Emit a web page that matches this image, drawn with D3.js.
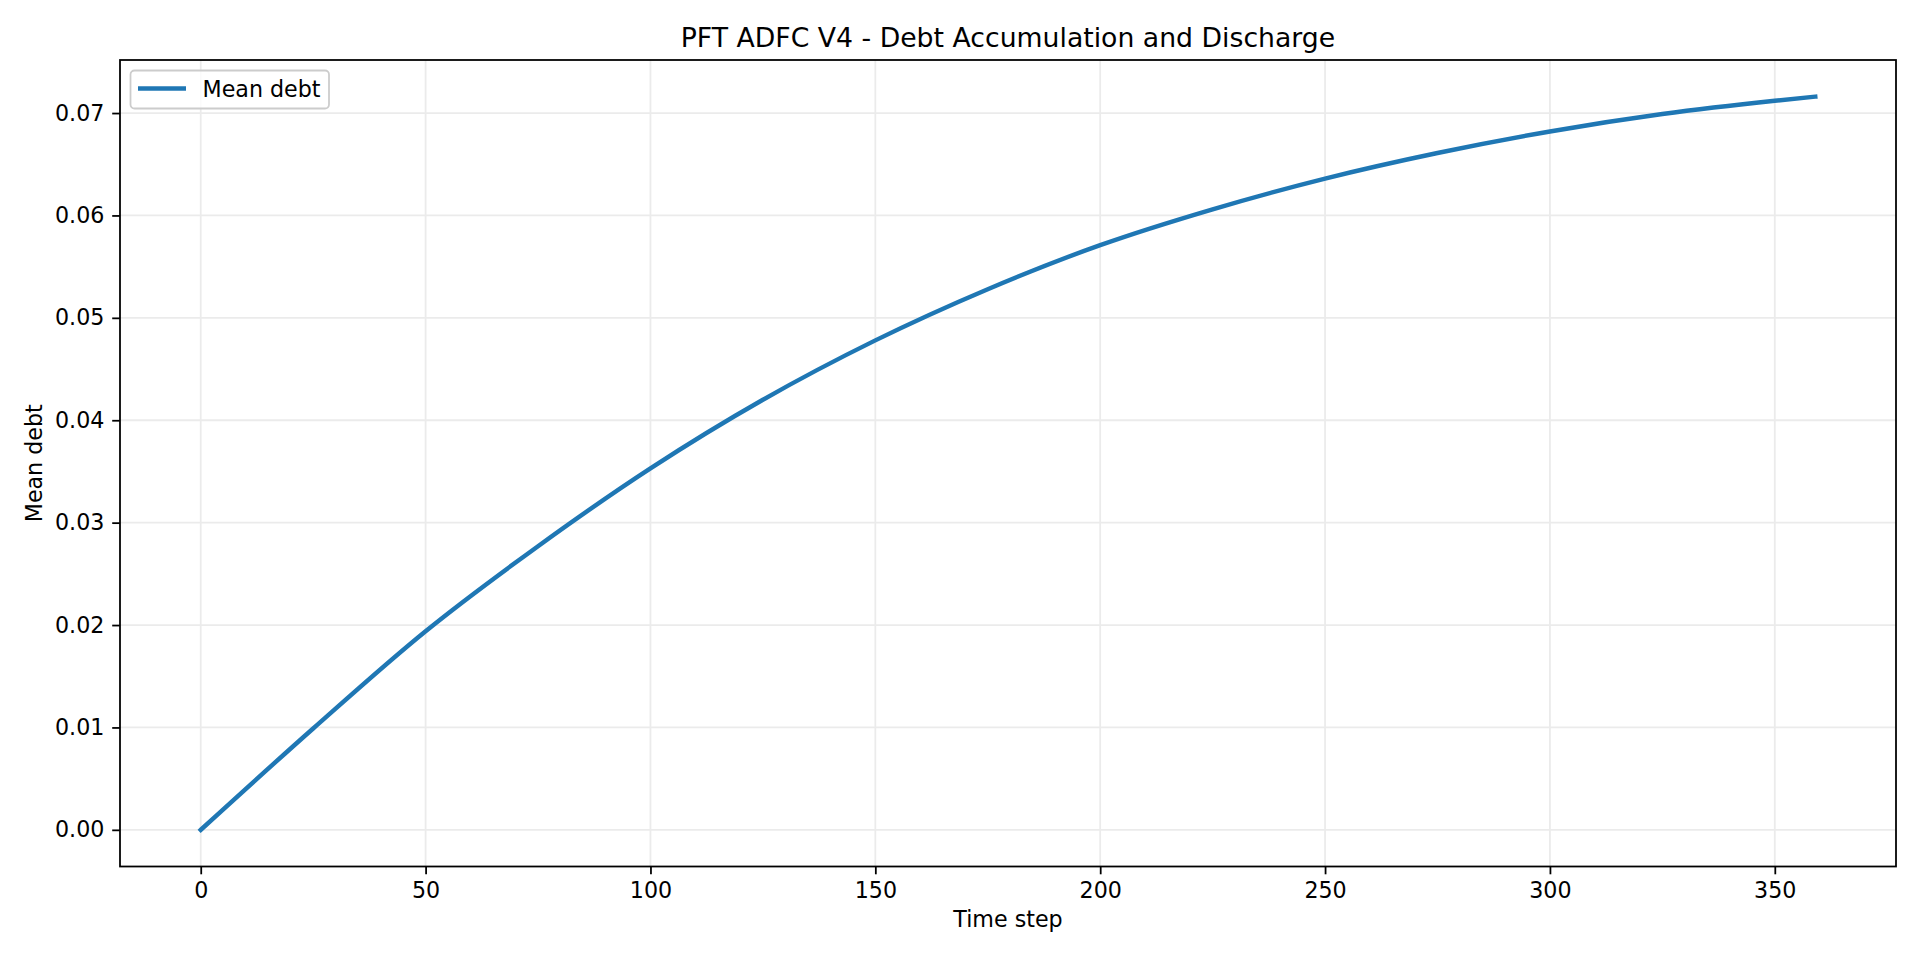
<!DOCTYPE html>
<html>
<head>
<meta charset="utf-8">
<script src="https://cdn.jsdelivr.net/npm/d3@7"></script>
<style>
html,body{margin:0;padding:0;background:#fff;}
svg{display:block;font-family:"DejaVu Sans",sans-serif;}
</style>
</head>
<body>
<svg id="chart" width="1920" height="960"></svg>
<script>
// Data
const timeSteps = [0, 25, 50, 75, 100, 125, 150, 175, 200, 225, 250, 275, 300, 325, 350, 359];
const meanDebt  = [0, 0.0099, 0.0194, 0.0277, 0.0353, 0.0420, 0.0478, 0.0528, 0.0571, 0.0606, 0.0636, 0.0661, 0.0682, 0.0699, 0.0712, 0.0716];
const xTicks = [0, 50, 100, 150, 200, 250, 300, 350];
const yTicks = [0.00, 0.01, 0.02, 0.03, 0.04, 0.05, 0.06, 0.07];
const titleText = "PFT ADFC V4 - Debt Accumulation and Discharge";
const xLabel = "Time step";
const yLabel = "Mean debt";
const seriesName = "Mean debt";

const data = timeSteps.map((t, i) => ({t, v: meanDebt[i]}));

const W = 1920, H = 960;
const m = {left: 120, right: 24, top: 60, bottom: 93.5};
const svg = d3.select("#chart");

const xMin = d3.min(timeSteps), xMax = d3.max(timeSteps);
const yMin = d3.min(meanDebt), yMax = d3.max(meanDebt);
const xPad = (xMax - xMin) * 0.05, yPad = (yMax - yMin) * 0.05;

const x = d3.scaleLinear().domain([xMin - xPad, xMax + xPad]).range([m.left, W - m.right]);
const y = d3.scaleLinear().domain([yMin - yPad, yMax + yPad]).range([H - m.bottom, m.top]);

const fs = 22.2;
const gridColor = "#ebebeb";

// grid
svg.append("g").selectAll("line").data(xTicks).join("line")
  .attr("x1", d => x(d)).attr("x2", d => x(d))
  .attr("y1", m.top).attr("y2", H - m.bottom)
  .attr("stroke", gridColor).attr("stroke-width", 1.78);
svg.append("g").selectAll("line").data(yTicks).join("line")
  .attr("y1", d => y(d)).attr("y2", d => y(d))
  .attr("x1", m.left).attr("x2", W - m.right)
  .attr("stroke", gridColor).attr("stroke-width", 1.78);

// line
const line = d3.line().x(d => x(d.t)).y(d => y(d.v)).curve(d3.curveMonotoneX);
svg.append("path").datum(data)
  .attr("d", line)
  .attr("fill", "none")
  .attr("stroke", "#1f77b4")
  .attr("stroke-width", 4.44)
  .attr("stroke-linecap", "square")
  .attr("stroke-linejoin", "round");

// axes
const xAxis = d3.axisBottom(x).tickValues(xTicks).tickFormat(d3.format("d")).tickSize(7.8).tickPadding(7.8);
const yAxis = d3.axisLeft(y).tickValues(yTicks).tickFormat(d3.format(".2f")).tickSize(7.8).tickPadding(7.8);

const gx = svg.append("g").attr("transform", `translate(0,${H - m.bottom})`).call(xAxis);
const gy = svg.append("g").attr("transform", `translate(${m.left},0)`).call(yAxis);
[gx, gy].forEach(g => {
  g.select(".domain").remove();
  g.selectAll(".tick line").attr("stroke", "#000").attr("stroke-width", 1.78);
  g.selectAll(".tick text").attr("fill", "#000").style("font-size", fs + "px").style("font-family", "DejaVu Sans");
});

// frame
svg.append("rect")
  .attr("x", m.left).attr("y", m.top)
  .attr("width", W - m.left - m.right).attr("height", H - m.top - m.bottom)
  .attr("fill", "none").attr("stroke", "#000").attr("stroke-width", 1.78);

// title
svg.append("text")
  .attr("x", (m.left + W - m.right) / 2).attr("y", 46.5)
  .attr("text-anchor", "middle")
  .style("font-size", "26.7px").attr("fill", "#000")
  .text(titleText);

// x label
svg.append("text")
  .attr("x", (m.left + W - m.right) / 2).attr("y", 926.5)
  .attr("text-anchor", "middle")
  .style("font-size", fs + "px").attr("fill", "#000")
  .text(xLabel);

// y label
svg.append("text")
  .attr("transform", `translate(41.5,${(m.top + H - m.bottom) / 2}) rotate(-90)`)
  .attr("text-anchor", "middle")
  .style("font-size", fs + "px").attr("fill", "#000")
  .text(yLabel);

// legend
const lg = svg.append("g");
lg.append("rect")
  .attr("x", 130.5).attr("y", 70.5).attr("width", 198.5).attr("height", 38)
  .attr("rx", 4).attr("ry", 4)
  .attr("fill", "#fff").attr("fill-opacity", 0.8)
  .attr("stroke", "#cccccc").attr("stroke-width", 1.78);
lg.append("line")
  .attr("x1", 138).attr("x2", 186).attr("y1", 88.5).attr("y2", 88.5)
  .attr("stroke", "#1f77b4").attr("stroke-width", 4.44);
lg.append("text")
  .attr("x", 202.5).attr("y", 96.5)
  .style("font-size", fs + "px").attr("fill", "#000")
  .text(seriesName);
</script>
</body>
</html>
